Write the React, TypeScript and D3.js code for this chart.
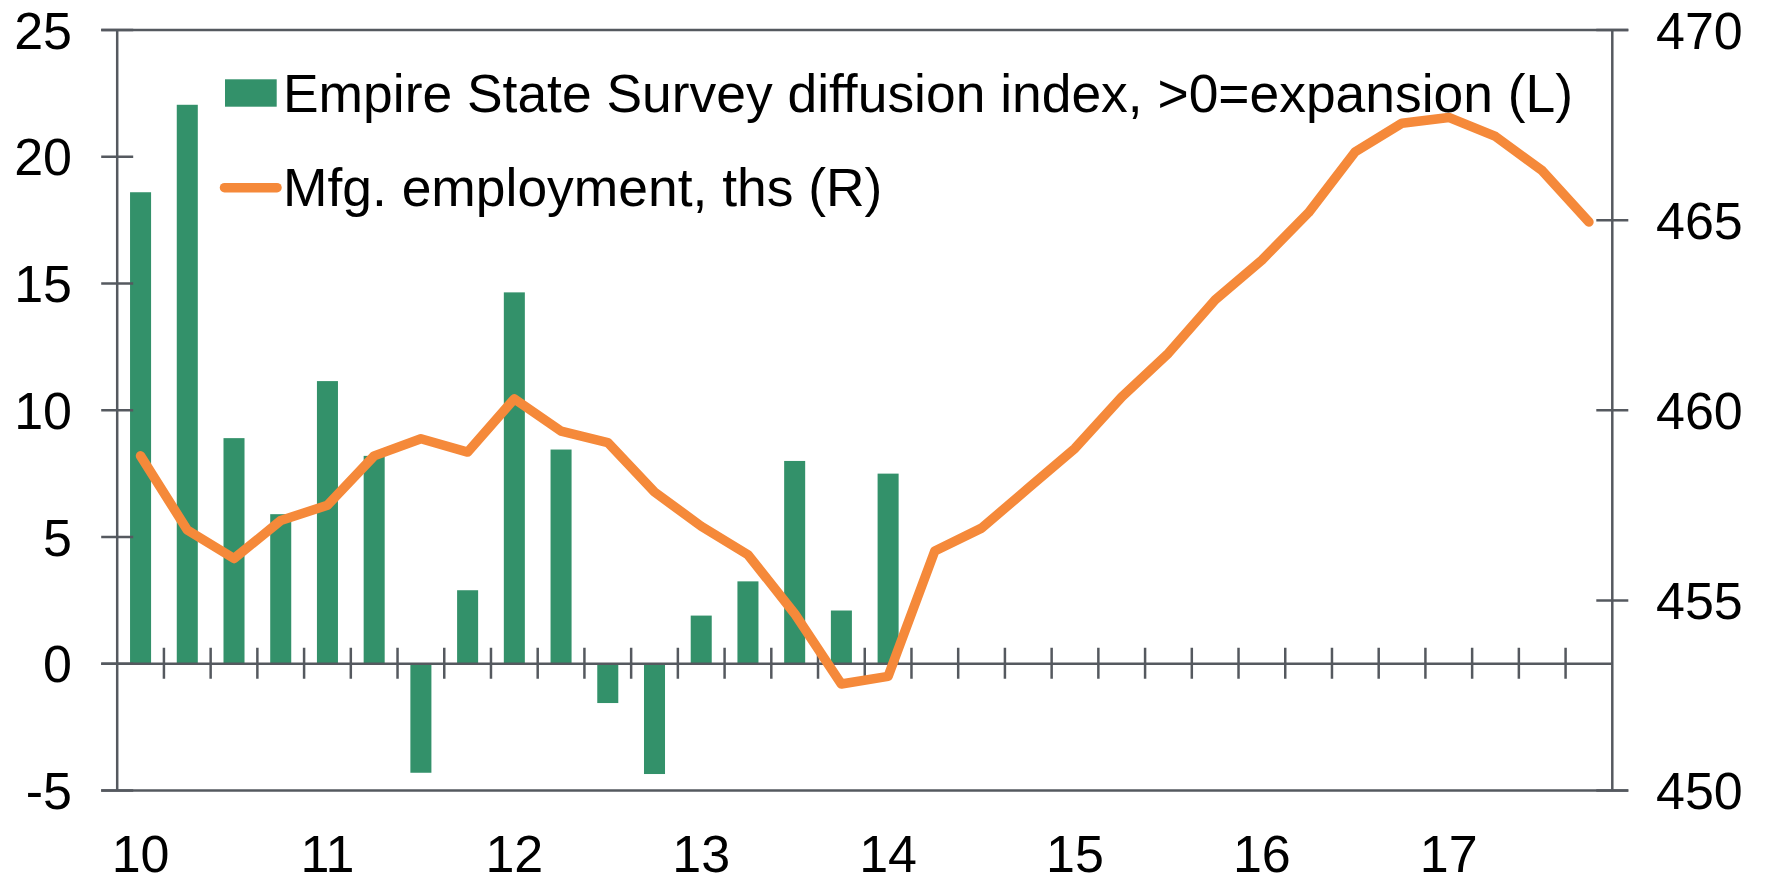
import React from "react";
import * as d3 from "d3";

const quarters: string[] = [
  "2010Q1","2010Q2","2010Q3","2010Q4",
  "2011Q1","2011Q2","2011Q3","2011Q4",
  "2012Q1","2012Q2","2012Q3","2012Q4",
  "2013Q1","2013Q2","2013Q3","2013Q4",
  "2014Q1","2014Q2","2014Q3","2014Q4",
  "2015Q1","2015Q2","2015Q3","2015Q4",
  "2016Q1","2016Q2","2016Q3","2016Q4",
  "2017Q1","2017Q2","2017Q3","2017Q4",
];

const surveyIndex: (number | null)[] = [
  18.6, 22.05, 8.9, 5.9, 11.15, 8.2, -4.3, 2.9, 14.65, 8.45, -1.55, -4.35,
  1.9, 3.25, 8.0, 2.1, 7.5,
  null, null, null, null, null, null, null, null, null, null, null, null, null, null, null,
];

const mfgEmployment: number[] = [
  458.8, 456.85, 456.1, 457.1, 457.5, 458.8, 459.25, 458.9, 460.3, 459.45, 459.15, 457.85,
  456.95, 456.2, 454.65, 452.8, 453.0, 456.3, 456.9, 457.95, 459.0, 460.35, 461.5, 462.9,
  463.95, 465.2, 466.8, 467.55, 467.7, 467.2, 466.3, 464.95,
];

const leftTicks: number[] = [-5, 0, 5, 10, 15, 20, 25];
const rightTicks: number[] = [450, 455, 460, 465, 470];
const yearLabels: { q: string; label: string }[] = [
  { q: "2010Q1", label: "10" },
  { q: "2011Q1", label: "11" },
  { q: "2012Q1", label: "12" },
  { q: "2013Q1", label: "13" },
  { q: "2014Q1", label: "14" },
  { q: "2015Q1", label: "15" },
  { q: "2016Q1", label: "16" },
  { q: "2017Q1", label: "17" },
];

const legendBar = "Empire State Survey diffusion index, >0=expansion (L)";
const legendLine = "Mfg. employment, ths (R)";

const GREEN = "#33916a";
const ORANGE = "#f5893a";
const AXIS = "#55595f";
const FONT = "'Liberation Sans', Arial, sans-serif";

export default function App() {
  const W = 1766;
  const H = 877;
  const left = 117.2;
  const right = 1612.3;
  const top = 30;
  const bottom = 790.5;

  const x = d3
    .scaleBand<string>()
    .domain(quarters)
    .range([left, right])
    .paddingInner(0.55)
    .paddingOuter(0.275);
  const step = x.step();
  const cx = (q: string) => (x(q) as number) + x.bandwidth() / 2;

  const yL = d3.scaleLinear().domain([-5, 25]).range([bottom, top]);
  const yR = d3.scaleLinear().domain([450, 470]).range([bottom, top]);

  const line = d3
    .line<number>()
    .x((_, i) => cx(quarters[i]))
    .y((d) => yR(d));

  const zeroY = yL(0);
  const boundaries = d3.range(1, quarters.length).map((k) => left + k * step);

  return (
    <svg
      width={W}
      height={H}
      style={{ position: "absolute", left: 0, top: 0, background: "#fff" }}
      fontFamily={FONT}
    >
      {/* bars */}
      {surveyIndex.map((v, i) =>
        v === null ? null : (
          <rect
            key={quarters[i]}
            x={x(quarters[i])}
            width={x.bandwidth()}
            y={Math.min(yL(v), zeroY)}
            height={Math.abs(yL(v) - zeroY)}
            fill={GREEN}
          />
        )
      )}

      {/* frame lines */}
      <line x1={left - 16} x2={right + 16} y1={top} y2={top} stroke={AXIS} strokeWidth={2.5} />
      <line x1={left - 16} x2={right + 16} y1={bottom} y2={bottom} stroke={AXIS} strokeWidth={2.5} />
      <line x1={left} x2={left} y1={top} y2={bottom} stroke={AXIS} strokeWidth={2.5} />
      <line x1={right} x2={right} y1={top} y2={bottom} stroke={AXIS} strokeWidth={2.5} />

      {/* zero line and quarter ticks */}
      <line x1={left - 16} x2={right} y1={zeroY} y2={zeroY} stroke={AXIS} strokeWidth={2.5} />
      {boundaries.map((bx, k) => (
        <line key={k} x1={bx} x2={bx} y1={zeroY - 16} y2={zeroY + 15} stroke={AXIS} strokeWidth={2.5} />
      ))}

      {/* left ticks */}
      {leftTicks.map((t) => (
        <g key={t}>
          <line x1={left - 16} x2={left + 16} y1={yL(t)} y2={yL(t)} stroke={AXIS} strokeWidth={2.5} />
          <text x={72} y={yL(t)} dy="0.36em" textAnchor="end" fontSize={52} fill="#000">
            {t}
          </text>
        </g>
      ))}

      {/* right ticks */}
      {rightTicks.map((t) => (
        <g key={t}>
          <line x1={right - 16} x2={right + 16} y1={yR(t)} y2={yR(t)} stroke={AXIS} strokeWidth={2.5} />
          <text x={1656} y={yR(t)} dy="0.36em" textAnchor="start" fontSize={52} fill="#000">
            {t}
          </text>
        </g>
      ))}

      {/* x labels */}
      {yearLabels.map((yl) => (
        <text key={yl.label} x={cx(yl.q)} y={872} textAnchor="middle" fontSize={52} fill="#000">
          {yl.label}
        </text>
      ))}

      {/* line */}
      <path
        d={line(mfgEmployment) || ""}
        fill="none"
        stroke={ORANGE}
        strokeWidth={9.5}
        strokeLinejoin="round"
        strokeLinecap="round"
      />

      {/* legend */}
      <rect x={225} y={79.3} width={51.7} height={27.4} fill={GREEN} />
      <text x={283} y={111.5} fontSize={53.4} fill="#000">
        {legendBar}
      </text>
      <line x1={224.5} x2={277} y1={187.7} y2={187.7} stroke={ORANGE} strokeWidth={9.5} strokeLinecap="round" />
      <text x={283} y={206} fontSize={53.4} fill="#000">
        {legendLine}
      </text>
    </svg>
  );
}
